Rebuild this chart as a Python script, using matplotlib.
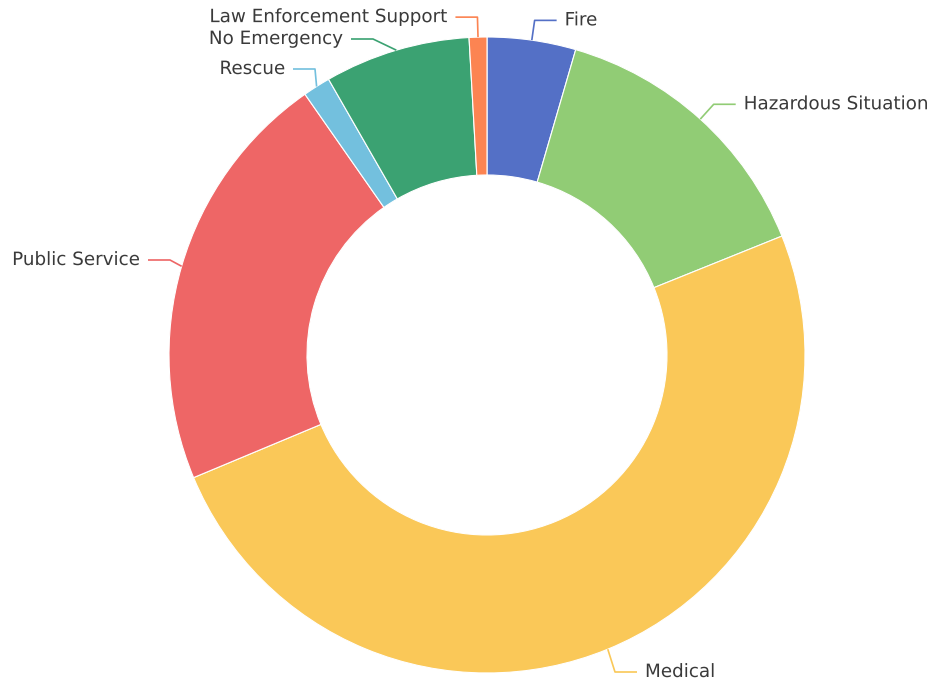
import matplotlib
matplotlib.use('Agg')
import matplotlib.pyplot as plt
import matplotlib.patheffects as pe
import numpy as np

# incident type shares (percent), clockwise from the top
categories = ['Fire', 'Hazardous Situation', 'Medical', 'Public Service',
              'Rescue', 'No Emergency', 'Law Enforcement Support']
values = [4.5, 14.4, 49.8, 21.6, 1.4, 7.4, 0.9]
colors = ['#5470c6', '#91cc75', '#fac858', '#ee6666', '#73c0de', '#3ba272', '#fc8452']

W, H = 931, 686
fig = plt.figure(figsize=(W / 100, H / 100), dpi=100)
ax = fig.add_axes([0, 0, 1, 1])

cx, cy = 487, H - 355
R = 318
width = 138

wedges, _ = ax.pie(values, colors=colors, startangle=90, counterclock=False,
                   center=(cx, cy), radius=R, frame=True,
                   wedgeprops=dict(width=width, edgecolor='white', linewidth=0.8))
ax.set_xlim(0, W)
ax.set_ylim(0, H)
ax.set_aspect('equal')
ax.axis('off')

# label lines: short radial leg then horizontal leg
len1, len2, gap = 20, 22, 8
# elbow positions nudged apart like the label layout (pixels from top-left)
elbow_fix = {'No Emergency': (373, 39), 'Rescue': (315, 69),
             'Public Service': (170, 260), 'Medical': (615, 672)}
outline = [pe.withStroke(linewidth=3, foreground='white')]

for w, name, c in zip(wedges, categories, colors):
    ang = np.deg2rad((w.theta1 + w.theta2) / 2)
    x0, y0 = cx + R * np.cos(ang), cy + R * np.sin(ang)
    x1, y1 = cx + (R + len1) * np.cos(ang), cy + (R + len1) * np.sin(ang)
    if name in elbow_fix:
        x1, y1 = elbow_fix[name][0], H - elbow_fix[name][1]
    side = 1 if np.cos(ang) >= 0 else -1
    x2 = x1 + side * len2
    ax.plot([x0, x1, x2], [y0, y1, y1], color=c, lw=1.2, solid_capstyle='butt')
    ax.text(x2 + side * gap, y1, name, ha='left' if side > 0 else 'right',
            va='center', fontsize=13.2, color='#3a3a3a',
            family=['DejaVu Sans'], path_effects=outline)

fig.savefig('out.png', dpi=100)
